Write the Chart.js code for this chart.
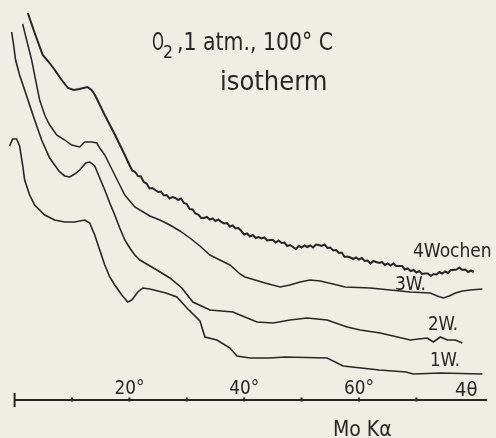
<!DOCTYPE html>
<html>
<head>
<meta charset="utf-8">
<script src="https://cdn.jsdelivr.net/npm/chart.js@4/dist/chart.umd.min.js"></script>
<style>
  html, body { margin: 0; padding: 0; background: #efefe6; }
  #wrap { width: 496px; height: 438px; }
</style>
</head>
<body>
<div id="wrap"><canvas id="myChart" width="496" height="438"></canvas></div>
<script>
// Mo K-alpha diffractograms, O2 1 atm 100 C, isotherm; x = 4theta in degrees, y = intensity (arb. units)
const angle1W = [-0.87, -0.35, 0.35, 0.87, 1.4, 1.75, 2.62, 3.49, 5.24, 6.98, 8.73, 10.47, 12.22, 13.09, 13.96, 14.83, 15.71, 16.58, 17.45, 18.67, 19.72, 20.42, 21.47, 22.34, 23.56, 26.35, 28.27, 30.02, 32.29, 33.16, 35.25, 37.52, 38.74, 41.01, 44.5, 47.12, 54.45, 57.24, 63.53, 68.19, 69.46, 74.17, 81.5];
const int1W = [252, 259, 259, 252, 233, 218, 203, 193, 183, 178, 176, 176, 178, 175, 163, 148, 133, 121, 113, 103, 96, 98, 106, 110, 109, 105, 101, 90, 77, 61, 58, 50, 42, 40, 40, 41, 40, 32, 28, 26, 24, 25, 24];

const angle2W = [-0.52, -0.17, 0.17, 0.87, 1.75, 2.62, 3.49, 4.71, 6.11, 7.85, 8.73, 9.6, 10.47, 11.34, 12.39, 13.09, 13.96, 14.83, 15.71, 16.58, 17.45, 18.32, 19.2, 20.07, 20.94, 21.82, 24.78, 27.05, 29.14, 31.06, 34.03, 38.05, 39.27, 42.23, 45.03, 47.99, 50.96, 54.45, 57.94, 60.21, 63.7, 68.94, 71.9, 72.95, 74.17, 75.39, 76.79, 78.01];
const int2W = [366, 353, 338, 323, 308, 293, 278, 258, 240, 226, 222, 221, 224, 228, 235, 236, 232, 220, 208, 195, 183, 170, 158, 150, 143, 138, 128, 120, 110, 96, 88, 86, 83, 76, 75, 78, 80, 78, 71, 68, 65, 58, 60, 56, 61, 58, 58, 55];

const angle3W = [1.4, 2.09, 2.97, 3.66, 4.36, 5.24, 6.11, 7.33, 8.73, 9.95, 11.34, 12.22, 13.44, 14.31, 14.83, 15.71, 16.58, 17.45, 18.32, 19.2, 20.94, 23.56, 25.31, 27.05, 28.8, 30.54, 32.29, 34.03, 35.78, 37.52, 39.27, 40.14, 41.88, 43.63, 46.25, 47.99, 49.74, 51.48, 53.23, 56.2, 57.59, 61.95, 65.45, 68.94, 72.43, 73.65, 74.69, 75.74, 76.79, 78.01, 79.41, 81.5];
const int3W = [374, 358, 338, 318, 298, 283, 273, 263, 258, 253, 251, 256, 256, 255, 250, 243, 233, 223, 213, 203, 191, 182, 178, 173, 167, 160, 152, 143, 138, 133, 124, 121, 118, 115, 111, 113, 116, 118, 117, 113, 111, 110, 108, 106, 105, 102, 100, 102, 105, 107, 108, 109];

const angle4W = [2.3, 3.5, 4.9, 6.1, 7.0, 8.2, 9.3, 10.3, 11.3, 12.0, 12.7, 13.4, 14.0, 15.7, 17.5, 19.2,
  20, 20.5, 21, 21.5, 22, 22.5, 23, 23.5, 24, 24.5, 25, 25.5, 26, 26.5, 27, 27.5, 28, 28.5, 29, 29.5,
  30, 30.5, 31, 31.5, 32, 32.5, 33, 33.5, 34, 34.5, 35, 35.5, 36, 36.5, 37, 37.5, 38, 38.5, 39, 39.5,
  40, 40.5, 41, 41.5, 42, 42.5, 43, 43.5, 44, 44.5, 45, 45.5, 46, 46.5, 47, 47.5, 48, 48.5, 49, 49.5,
  50, 50.5, 51, 51.5, 52, 52.5, 53, 53.5, 54, 54.5, 55, 55.5, 56, 56.5, 57, 57.5, 58, 58.5, 59, 59.5,
  60, 60.5, 61, 61.5, 62, 62.5, 63, 63.5, 64, 64.5, 65, 65.5, 66, 66.5, 67, 67.5, 68, 68.5, 69, 69.5,
  70, 70.5, 71, 71.5, 72, 72.5, 73, 73.5, 74, 74.5, 75, 75.5, 76, 76.5, 77, 77.5, 78, 78.5, 79, 79.5, 80];
const int4W = [385, 365, 343, 335, 328, 318, 310, 308, 309, 310, 311, 308, 303, 283, 263, 243,
  233, 227.5, 226, 222, 221.5, 216, 214.5, 209.5, 210, 208, 206, 206.5, 202.5, 203, 199.5, 201, 200, 198, 199.5, 195,
  194, 189, 188.5, 184.5, 183.5, 180, 180, 181, 178.5, 179.5, 177, 178.5, 176, 174.5, 175, 171.5, 172.5, 169.5, 170, 167,
  163.5, 164.5, 161.5, 163, 160, 161, 159.5, 160.5, 157.5, 158, 158, 155.5, 157.5, 155, 155.5, 152, 153, 151, 149, 152,
  150.5, 152.5, 151, 152.5, 150.5, 153.5, 153, 152, 153.5, 150, 150.5, 147.5, 148, 145, 145.5, 141, 141.5, 140.5, 139, 140.5,
  138.5, 140, 137, 137.5, 134.5, 137, 136, 135, 136, 133, 134.5, 132.5, 134.5, 132, 132, 132, 128.5, 129.5, 127, 128,
  125.5, 127, 124, 124.5, 124.5, 122, 124, 123.5, 126, 124.5, 126.5, 125, 128, 128, 128.5, 130.5, 128, 128.5, 126, 127.5, 126];

const axisLabels = ['20°', '40°', '60°'];
const axisLabelAngles = [20, 40, 60];
const minorTicks = [10, 20, 30, 40, 50, 60, 70];
const seriesLabels = ['1W.', '2W.', '3W.', '4Wochen'];

const ink = '#262626';
const paper = '#eeeee4';
const font = '"Liberation Sans Narrow", "DejaVu Sans Condensed", "DejaVu Sans"';

function pts(xs, ys) {
    return xs.map((x, i) => ({ x: x, y: ys[i] }));
}

const paperPlugin = {
    id: 'paper',
    beforeDraw(chart) {
        const c = chart.ctx;
        c.save();
        c.fillStyle = paper;
        c.fillRect(0, 0, chart.width, chart.height);
        c.restore();
    }
};

const labelPlugin = {
    id: 'labels',
    afterDraw(chart) {
        const c = chart.ctx;
        const xs = chart.scales.x;
        const base = chart.chartArea.bottom + 2;
        c.save();
        c.fillStyle = ink;
        c.strokeStyle = ink;

        // axis line with end bar and small ticks
        c.lineWidth = 2;
        c.beginPath();
        c.moveTo(xs.getPixelForValue(0), base);
        c.lineTo(xs.getPixelForValue(82.3), base);
        c.stroke();
        c.beginPath();
        c.moveTo(xs.getPixelForValue(0), base - 7);
        c.lineTo(xs.getPixelForValue(0), base + 7);
        c.stroke();
        minorTicks.forEach(t => {
            const px = xs.getPixelForValue(t);
            c.fillRect(px - 1, base - 2.5, 2, 4);
        });

        c.textBaseline = 'alphabetic';
        c.font = '20px ' + font;
        c.textAlign = 'center';
        axisLabels.forEach((t, i) => {
            c.fillText(t, xs.getPixelForValue(axisLabelAngles[i]), base - 6, 30);
        });
        c.textAlign = 'left';
        c.fillText('4θ', 455, base - 4, 30);
        c.font = '21px ' + font;
        c.fillText('Mo Kα', 333, 436, 72);

        // title
        c.font = '25px ' + font;
        c.fillText('O', 152, 50, 12);
        c.font = '18px ' + font;
        c.fillText('2', 163, 58, 10);
        c.font = '25px ' + font;
        c.fillText(',1 atm., 100° C', 177, 50, 156);
        c.font = '27px ' + font;
        c.fillText('isotherm', 220, 90, 108);

        // series labels
        c.font = '19px ' + font;
        c.fillText(seriesLabels[3], 413, 257, 82);
        c.fillText(seriesLabels[2], 395, 290, 32);
        c.fillText(seriesLabels[1], 428, 330, 30);
        c.fillText(seriesLabels[0], 430, 366, 30);
        c.restore();
    }
};

function line(label, xs, ys, w) {
    return {
        label: label,
        data: pts(xs, ys),
        borderColor: ink,
        borderWidth: w,
        pointRadius: 0,
        tension: 0,
        fill: false
    };
}

const ctx = document.getElementById('myChart').getContext('2d');
const myChart = new Chart(ctx, {
    type: 'line',
    data: {
        datasets: [
            line(seriesLabels[0], angle1W, int1W, 1.6),
            line(seriesLabels[1], angle2W, int2W, 1.6),
            line(seriesLabels[2], angle3W, int3W, 1.5),
            line(seriesLabels[3], angle4W, int4W, 2)
        ]
    },
    options: {
        responsive: false,
        animation: false,
        clip: false,
        layout: { padding: { left: 6, right: 5, top: 0, bottom: 40 } },
        plugins: {
            legend: { display: false },
            tooltip: { enabled: false }
        },
        scales: {
            x: { type: 'linear', min: -1.5, max: 83, display: false },
            y: { min: 0, max: 398, display: false }
        }
    },
    plugins: [paperPlugin, labelPlugin]
});
</script>
</body>
</html>
